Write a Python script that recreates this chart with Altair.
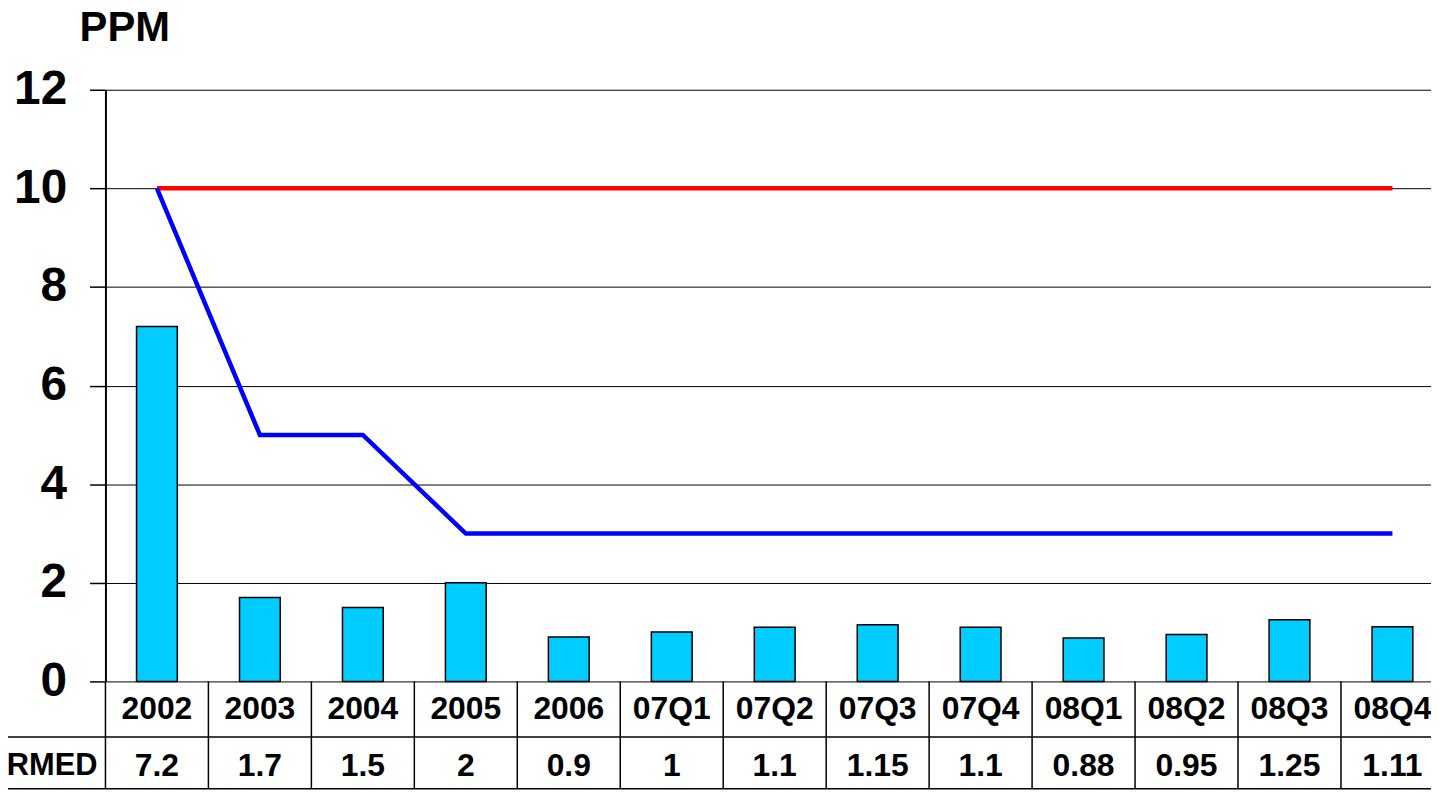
import altair as alt
import pandas as pd

categories = ["2002", "2003", "2004", "2005", "2006", "07Q1", "07Q2", "07Q3",
              "07Q4", "08Q1", "08Q2", "08Q3", "08Q4"]
ppm_values = [7.2, 1.7, 1.5, 2, 0.9, 1, 1.1, 1.15, 1.1, 0.88, 0.95, 1.25, 1.11]
limit_values = [10, 10, 10, 10, 10, 10, 10, 10, 10, 10, 10, 10, 10]
target_values = [10, 5, 5, 3, 3, 3, 3, 3, 3, 3, 3, 3, 3]
row_label = "RMED"
unit_label = "PPM"
y_ticks = [0, 2, 4, 6, 8, 10, 12]

df = pd.DataFrame({"cat": categories, "ppm": ppm_values,
                   "limit": limit_values, "target": target_values})

FONT = "Liberation Sans"
W, H = 1333, 595
PAD_L, PAD_T = 98, 80

xscale = alt.Scale(domain=categories, range=[0, 1346], paddingInner=0, paddingOuter=0)
x_main = alt.X("cat:N", scale=xscale, sort=categories, axis=None)
yscale = alt.Scale(domain=[0, 12], nice=False, zero=True)

y_axis = alt.Axis(values=y_ticks, grid=True, gridColor="black", gridWidth=1, gridOpacity=1,
                  domain=True, domainColor="black", domainWidth=2,
                  ticks=True, tickColor="black", tickSize=16, tickWidth=1.5,
                  labelFont=FONT, labelFontSize=48, labelFontWeight="bold", labelColor="black",
                  labelPadding=23, title=None)

base = alt.Chart(df)

bars = base.mark_bar(width=41, color="#00CCFF", stroke="black", strokeWidth=1.5).encode(
    x=x_main, y=alt.Y("ppm:Q", scale=yscale, axis=y_axis))
red = base.mark_line(color="#FF0000", strokeWidth=4.5).encode(
    x=x_main, y=alt.Y("limit:Q", scale=yscale, axis=y_axis))
blue = base.mark_line(color="#0000FF", strokeWidth=4.5).encode(
    x=x_main, y=alt.Y("target:Q", scale=yscale, axis=y_axis))

cat_text = base.mark_text(font=FONT, fontSize=32, fontWeight="bold", color="black",
                          baseline="middle").encode(
    x=x_main, y=alt.value(623), text="cat:N")
val_text = base.mark_text(font=FONT, fontSize=32, fontWeight="bold", color="black",
                          baseline="middle").encode(
    x=x_main, y=alt.value(680), text=alt.Text("ppm:Q"))

vrules = base.mark_rule(color="black", strokeWidth=1.5).encode(
    x=alt.X("cat:N", scale=xscale, sort=categories, axis=None, bandPosition=0),
    y=alt.value(H), y2=alt.value(703))

one = alt.Data(values=[{"k": 1}])
hrule1 = alt.Chart(one).mark_rule(color="black", strokeWidth=1.5).encode(
    x=alt.value(-PAD_L), x2=alt.value(W), y=alt.value(651))
hrule2 = alt.Chart(one).mark_rule(color="black", strokeWidth=1.5).encode(
    x=alt.value(-PAD_L), x2=alt.value(W), y=alt.value(703))
row_text = alt.Chart(one).mark_text(font=FONT, fontSize=31, fontWeight="bold", color="black",
                                    align="right", baseline="middle").encode(
    x=alt.value(-8), y=alt.value(680), text=alt.value(row_label))
unit_text = alt.Chart(one).mark_text(font=FONT, fontSize=42, fontWeight="bold", color="black",
                                     align="left", baseline="alphabetic").encode(
    x=alt.value(-26), y=alt.value(-49), text=alt.value(unit_label))

chart = alt.layer(bars, red, blue, vrules, hrule1, hrule2, cat_text, val_text, row_text,
                  unit_text).properties(
    width=W, height=H,
    autosize=alt.AutoSizeParams(type="none"),
    padding={"left": PAD_L, "top": PAD_T, "right": 0, "bottom": 110},
    background="white",
).configure_view(stroke=None)

chart.save("out.html", embed_options={"renderer": "svg", "actions": False})
